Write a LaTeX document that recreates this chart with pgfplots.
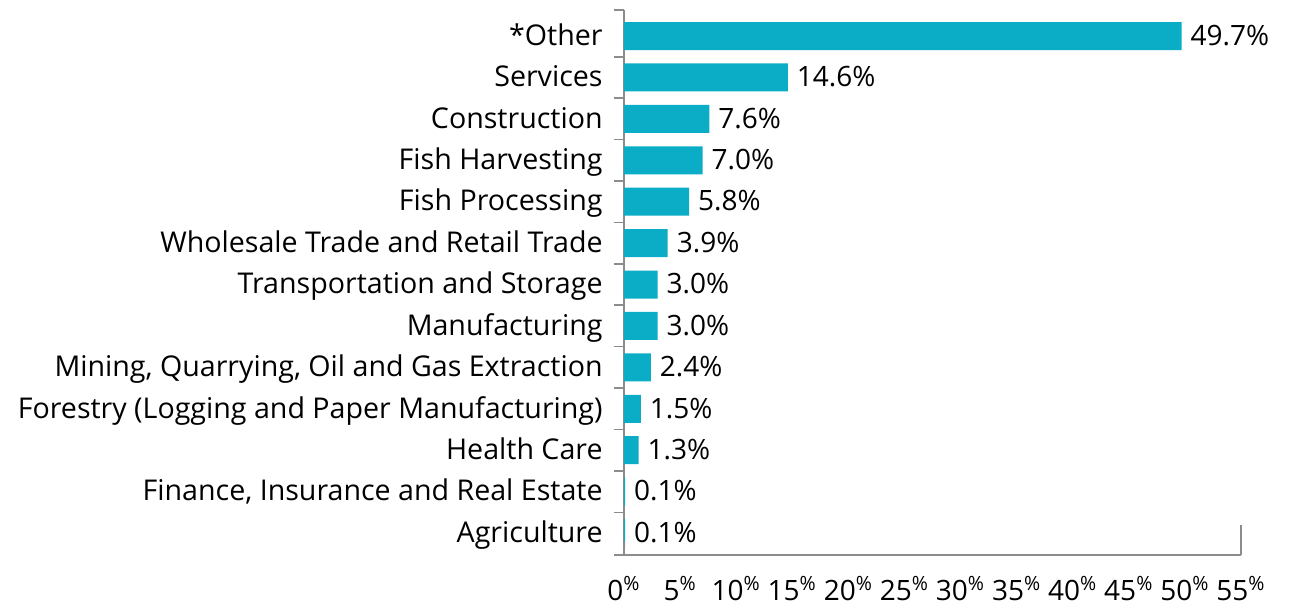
\documentclass[border=0pt]{standalone}
\usepackage{fontspec}
\setmainfont{Open Sans}
\usepackage{pgfplots}
\pgfplotsset{compat=1.18}
\definecolor{barc}{RGB}{10,172,198}
\definecolor{axc}{RGB}{140,140,140}
\begin{document}
\begin{tikzpicture}
\begin{axis}[
  at={(0,0)}, anchor=south west,
  scale only axis,
  width=308.5pt, height=272.5pt,
  xbar, bar width=14pt,
  xmin=0, xmax=55, ymin=-0.53, ymax=12.63,
  axis x line*=bottom, axis y line*=left,
  axis line style={axc, line width=0.8pt},
  /pgf/number format/assume math mode=true,
  xtick={0,5,...,55},
  xticklabel={\pgfmathprintnumber{\tick}\textsuperscript{\%}},
  xticklabel style={font=\fontsize{14}{16}\selectfont, yshift=-2pt},
  x tick style={draw=none},
  ytick={-0.53,0.5,1.5,...,11.5,12.63},
  yticklabels={},
  tick align=outside,
  major tick length=5pt,
  y tick style={axc, line width=0.8pt},
  extra y ticks={0,...,12},
  extra y tick labels={Agriculture,{Finance, Insurance and Real Estate},Health Care,{Forestry (Logging and Paper Manufacturing)},{Mining, Quarrying, Oil and Gas Extraction},Manufacturing,{Transportation and Storage\hspace{8pt}},Wholesale Trade and Retail Trade,Fish Processing,Fish Harvesting,Construction,Services,*Other},
  extra y tick style={major tick length=0pt, tick style={draw=none},
    yticklabel style={font=\fontsize{14.3}{16}\selectfont, inner sep=0pt, xshift=-10.5pt, yshift=-1pt, text depth=0pt, text height=0.72em, anchor=east}},
  nodes near coords={\pgfmathprintnumber[fixed,fixed zerofill,precision=1]{\pgfplotspointmeta}\%},
  every node near coord/.append style={font=\fontsize{14}{16}\selectfont, black, xshift=1pt, yshift=-1pt, text depth=0pt, text height=0.72em, anchor=west},
  clip=false,
]
\addplot[fill=barc, draw=none] coordinates {
(0.1,0) (0.1,1) (1.3,2) (1.5,3) (2.4,4) (3.0,5) (3.0,6) (3.9,7) (5.8,8) (7.0,9) (7.6,10) (14.6,11) (49.7,12)
};
\draw[axc, line width=0.8pt] (axis cs:0,-0.53) -- ++(0,-4pt);
\draw[axc, line width=0.8pt] (axis cs:55,-0.53) -- ++(0,4pt);
\end{axis}
\useasboundingbox (-312pt,-21.5pt) rectangle (332.5pt,277.5pt);
\end{tikzpicture}
\end{document}
